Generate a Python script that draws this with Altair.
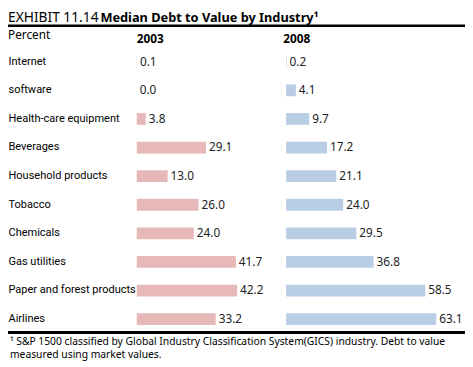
import altair as alt
import pandas as pd

industries = ["Internet", "software", "Health-care equipment", "Beverages",
              "Household products", "Tobacco", "Chemicals", "Gas utilities",
              "Paper and forest products", "Airlines"]
v2003 = [0.1, 0.0, 3.8, 29.1, 13.0, 26.0, 24.0, 41.7, 42.2, 33.2]
v2008 = [0.2, 4.1, 9.7, 17.2, 21.1, 24.0, 29.5, 36.8, 58.5, 63.1]
years = ["2003", "2008"]
title_left = "EXHIBIT 11.14"
title_main = "Median Debt to Value by Industry\u00b9"
unit_label = "Percent"
footnote = ["\u00b9 S&P 1500 classified by Global Industry Classification System(GICS) industry. Debt to value",
            "measured using market values."]

FONT = "Noto Sans"
LABEL_FONT = "Roboto"
W, H = 334, 291
LEFT = 131
PX_PER_UNIT = 2.42
XMAX = W / PX_PER_UNIT
OFF = 152

d03 = pd.DataFrame({"industry": industries, "value": v2003})
d08 = pd.DataFrame({"industry": industries, "value": v2008})

xs = alt.Scale(domain=[0, XMAX], nice=False, zero=True)
ys = alt.Scale(domain=industries, paddingInner=0, paddingOuter=0)

x_enc = alt.X("value:Q", scale=xs, axis=None)
y_enc = alt.Y("industry:N", sort=industries, scale=ys,
              axis=alt.Axis(title=None, ticks=False, tickSize=0, domain=False,
                            labelAlign="left", labelPadding=LEFT,
                            labelFont=LABEL_FONT, labelFontSize=11.2, labelColor="#000",
                            labelBaseline="middle", labelLimit=0, grid=False))

bars03 = alt.Chart(d03).mark_bar(color="#e6b9b8", size=12).encode(x=x_enc, y=y_enc)
bars08 = alt.Chart(d08).mark_bar(color="#b9cde5", size=12, xOffset=OFF, x2Offset=OFF).encode(x=x_enc, y=y_enc)
lab03 = alt.Chart(d03).mark_text(align="left", baseline="middle", dx=3, font=FONT,
                                 fontSize=12, color="#222").encode(
    x=x_enc, y=y_enc, text=alt.Text("value:Q", format=".1f"))
lab08 = alt.Chart(d08).mark_text(align="left", baseline="middle", dx=OFF + 3, font=FONT,
                                 fontSize=12, color="#222").encode(
    x=x_enc, y=y_enc, text=alt.Text("value:Q", format=".1f"))


def txt(s, x, y, size, weight="normal"):
    return alt.Chart(pd.DataFrame({"t": [s]})).mark_text(
        align="left", baseline="alphabetic", font=FONT, fontSize=size,
        fontWeight=weight, color="#000").encode(
        x=alt.value(x), y=alt.value(y), text="t:N")


def rule(y, w):
    return alt.Chart(pd.DataFrame({"a": [0]})).mark_rule(color="#000", strokeWidth=w).encode(
        x=alt.value(-LEFT), x2=alt.value(W), y=alt.value(y))


layers = [
    bars03, bars08, lab03, lab08,
    txt(title_left, -LEFT, -26, 14),
    txt(title_main, -LEFT + 94, -26, 13, "bold"),
    rule(-22, 2.5),
    txt(unit_label, -LEFT, -9, 12),
    txt(years[0], 0, -5, 12, "bold"),
    txt(years[1], OFF - 3, -5, 12, "bold"),
    rule(290, 3),
    txt(footnote[0], -LEFT + 2, 303, 10.5),
    txt(footnote[1], -LEFT + 2, 316, 10.5),
]

chart = alt.layer(*layers).properties(
    width=W, height=H,
    padding={"left": LEFT, "top": 37, "right": 0, "bottom": 31},
    autosize=alt.AutoSizeParams(type="none"),
).configure_view(stroke=None)

chart.save("out.html", embed_options={"renderer": "svg", "actions": False})
